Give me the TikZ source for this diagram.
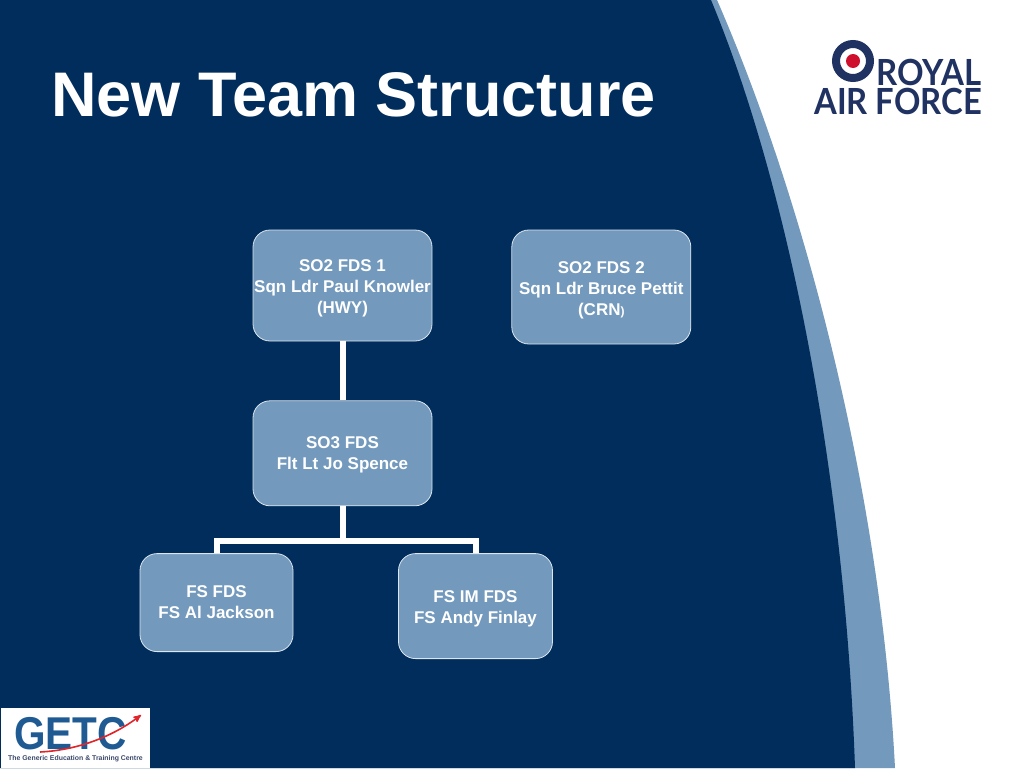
\documentclass[tikz,border=0pt]{standalone}
\usepackage{fontspec}
\setmainfont{Liberation Sans}
\newfontfamily\logofont{Lato}
\usetikzlibrary{arrows,positioning}
\definecolor{slidenavy}{HTML}{002D5C}
\definecolor{slideblue}{HTML}{7399BD}
\definecolor{rafnavy}{HTML}{1F3262}
\definecolor{rafred}{HTML}{CE0F2D}
\definecolor{getcblue}{HTML}{1F5A93}
\definecolor{getcred}{HTML}{E0252B}
\newcommand{\liftline}[1]{\rule{0pt}{#1}}
\tikzset{
  orgbox/.style={draw=white!75!slideblue,line width=0.8pt,fill=slideblue,rounded corners=17pt,
                 minimum width=179pt,minimum height=111pt,inner sep=0pt,align=center,text=white,
                 font=\fontsize{17}{21}\selectfont\bfseries},
  orglink/.style={draw=white,line width=6pt},
  raftext/.style={inner sep=0pt,anchor=base east,text=rafnavy,font=\fontsize{36}{36}\selectfont\logofont\bfseries}
}
\begin{document}
\begin{tikzpicture}[x=1pt,y=-1pt]
  \useasboundingbox (0,0) rectangle (1024,768);
  % backdrop
  \fill [white] (0,0) rectangle (1024,768);
  \fill [slideblue] (0,0) -- (717,0) .. controls (800,190) and (880,480) .. (895,768) -- (0,768) -- cycle;
  \fill [slidenavy] (0,0) -- (711,0) .. controls (790,190) and (845,480) .. (855,768) -- (0,768) -- cycle;
  \node [inner sep=0pt,anchor=base west,text=white,font=\fontsize{63}{63}\selectfont\bfseries] (title) at (51,116) {New Team Structure};
  % boxes
  \node [orgbox] (so2a) at (342.5,285.5) {\liftline{17pt}SO2 FDS 1\\Sqn Ldr Paul Knowler\\(HWY)};
  \node [orgbox,minimum height=114pt] (so2b) [right=79pt of so2a,yshift=-1.5pt] {\liftline{19pt}SO2 FDS 2\\Sqn Ldr Bruce Pettit\\(CRN{\fontsize{12}{12}\selectfont)}};
  \node [orgbox,minimum height=105pt] (so3) [below=59pt of so2a] {\liftline{15pt}SO3 FDS\\Flt Lt Jo Spence};
  \node [orgbox,minimum width=153pt,minimum height=98pt] (fsfds) [below=47pt of so3,xshift=-126pt] {FS FDS\\FS Al Jackson};
  \node [orgbox,minimum width=154pt,minimum height=105pt] (fsim) [below=47pt of so3,xshift=133pt] {\liftline{17pt}FS IM FDS\\FS Andy Finlay};
  \coordinate (branch) at (342.5,541);
  \draw [orglink] (so2a.south) -- (so3.north);
  \draw [orglink] (so3.south) -- (branch);
  \draw [orglink] (branch) -| (fsfds.north);
  \draw [orglink] (branch) -| (fsim.north);
  % raf logo
  \node [circle,draw=rafnavy,line width=8pt,fill=white,minimum size=34pt,inner sep=0pt] (roundel) at (853,61) {};
  \node [circle,fill=rafred,minimum size=14pt,inner sep=0pt] (roundeldot) at (roundel) {};
  \node [raftext] (royal) at (982,85) {\scalebox{.915}[1]{ROYAL}};
  \node [raftext] (airforce) at (982,114) {\scalebox{.91}[1]{AIR FORCE}};
  % getc logo
  \fill [white] (1,708) rectangle (150,768);
  \node [inner sep=0pt,anchor=base west,text=getcblue,font=\fontsize{46}{46}\selectfont\bfseries] (getc) at (14,749) {\scalebox{.88}[1]{GETC}};
  \coordinate (swooshstart) at (40,752);
  \coordinate (swooshend) at (141,715);
  \draw [getcred,line width=1.6pt,->,>=stealth'] (swooshstart) .. controls (80,750) and (115,735) .. (swooshend);
  \node [inner sep=0pt,anchor=base west,text=rafnavy!70!gray,font=\fontsize{6.9}{8}\selectfont\bfseries] (getcname) at (8,760) {The Generic Education \& Training Centre};
\end{tikzpicture}
\end{document}
